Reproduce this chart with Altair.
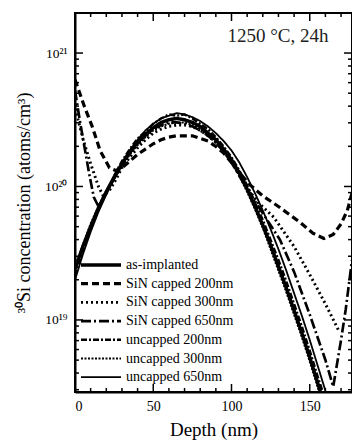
import altair as alt
import pandas as pd

# ---------------- data ----------------
series_names = ["as-implanted", "SiN capped 200nm", "SiN capped 300nm",
                "SiN capped 650nm", "uncapped 200nm", "uncapped 300nm",
                "uncapped 650nm"]

# common depth grid (nm) for the as-implanted and uncapped profiles
depth_std = [0, 5, 10, 15, 20, 25, 30, 35, 40, 45, 50, 55, 60, 65, 70, 75, 80,
             85, 90, 95, 100, 105, 110, 115, 120, 125, 130, 135, 140, 145, 150,
             155, 160]
# log10 of concentration (atoms/cm^3)
as_implanted_log = [19.38, 19.55, 19.70, 19.84, 19.96, 20.07, 20.17, 20.26, 20.33,
                    20.39, 20.44, 20.48, 20.50, 20.51, 20.50, 20.48, 20.45, 20.40,
                    20.35, 20.28, 20.20, 20.10, 19.98, 19.85, 19.71, 19.56, 19.40,
                    19.24, 19.07, 18.90, 18.72, 18.53, 18.34]
uncapped200_log = [19.33, 19.52, 19.68, 19.83, 19.95, 20.08, 20.19, 20.28, 20.36,
                   20.41, 20.47, 20.51, 20.54, 20.53, 20.54, 20.51, 20.47, 20.43,
                   20.37, 20.30, 20.22, 20.12, 20.01, 19.88, 19.75, 19.60, 19.45,
                   19.29, 19.12, 18.95, 18.77, 18.58, 18.40]
uncapped300_log = [19.40, 19.56, 19.72, 19.85, 19.97, 20.06, 20.15, 20.24, 20.31,
                   20.37, 20.42, 20.45, 20.47, 20.48, 20.48, 20.46, 20.43, 20.39,
                   20.33, 20.26, 20.18, 20.08, 19.96, 19.83, 19.69, 19.53, 19.37,
                   19.21, 19.04, 18.87, 18.69, 18.50, 18.31]
uncapped650_log = [19.30, 19.49, 19.66, 19.81, 19.94, 20.06, 20.17, 20.27, 20.35,
                   20.42, 20.47, 20.51, 20.53, 20.55, 20.54, 20.52, 20.49, 20.45,
                   20.40, 20.34, 20.27, 20.18, 20.07, 19.95, 19.82, 19.68, 19.53,
                   19.37, 19.20, 19.03, 18.85, 18.66, 18.47]

sin200_depth = [0, 3, 6, 11, 16, 22, 26, 30, 35, 40, 45, 50, 55, 60, 65, 70, 75,
                80, 85, 90, 95, 100, 106, 112, 120, 130, 144, 152, 159, 165, 170,
                174, 177]
sin200_log = [20.80, 20.70, 20.60, 20.45, 20.27, 20.14, 20.12, 20.14, 20.19, 20.24,
              20.28, 20.32, 20.35, 20.37, 20.38, 20.38, 20.38, 20.36, 20.34, 20.30,
              20.25, 20.18, 20.09, 20.01, 19.93, 19.85, 19.73, 19.65, 19.61, 19.64,
              19.72, 19.82, 19.95]

sin300_depth = [0, 2, 5, 10, 15, 18, 22, 26, 30, 35, 40, 45, 50, 55, 60, 65, 70,
                75, 80, 85, 90, 95, 100, 105, 110, 117, 127, 140, 150, 160, 168.5]
sin300_log = [20.62, 20.50, 20.36, 20.17, 20.00, 19.93, 19.97, 20.05, 20.14, 20.22,
              20.29, 20.35, 20.40, 20.43, 20.45, 20.46, 20.46, 20.45, 20.42, 20.38,
              20.33, 20.27, 20.20, 20.10, 19.99, 19.88, 19.77, 19.55, 19.34, 19.12,
              18.92]

sin650_depth = [0, 3, 6, 9, 12, 15, 20, 25, 30, 35, 40, 45, 50, 55, 60, 65, 70,
                75, 80, 85, 90, 95, 100, 110, 120, 131, 140, 150, 160, 165, 170,
                173, 177]
sin650_log = [20.72, 20.50, 20.30, 20.10, 19.92, 19.85, 19.95, 20.06, 20.16, 20.25,
              20.32, 20.38, 20.43, 20.46, 20.48, 20.48, 20.47, 20.45, 20.42, 20.38,
              20.33, 20.26, 20.18, 19.98, 19.80, 19.60, 19.36, 19.04, 18.70, 18.50,
              18.85, 19.08, 19.45]

x_major = [0, 50, 100, 150]
x_minor = [10, 20, 30, 40, 60, 70, 80, 90, 110, 120, 130, 140, 160, 170]
y_major = [1e19, 1e20, 1e21]
y_minor = [3e18, 4e18, 5e18, 6e18, 7e18, 8e18, 9e18,
           2e19, 3e19, 4e19, 5e19, 6e19, 7e19, 8e19, 9e19,
           2e20, 3e20, 4e20, 5e20, 6e20, 7e20, 8e20, 9e20]

annotation = "1250 °C, 24h"
x_title = "Depth (nm)"
y_title = "³⁰Si concentration (atoms/cm³)"

# ---------------- assemble table ----------------
rows = []
def add(name, depths, logs):
    for i, (d, v) in enumerate(zip(depths, logs)):
        rows.append({"series": name, "depth": d, "conc": 10 ** v, "order": i})

add("as-implanted", depth_std, as_implanted_log)
add("SiN capped 200nm", sin200_depth, sin200_log)
add("SiN capped 300nm", sin300_depth, sin300_log)
add("SiN capped 650nm", sin650_depth, sin650_log)
add("uncapped 200nm", depth_std, uncapped200_log)
add("uncapped 300nm", depth_std, uncapped300_log)
add("uncapped 650nm", depth_std, uncapped650_log)
df = pd.DataFrame(rows)
note_df = pd.DataFrame({"label": [annotation]})
xmaj_df = pd.DataFrame({"depth": x_major})
xmin_df = pd.DataFrame({"depth": x_minor})
ymaj_df = pd.DataFrame({"conc": y_major})
ymin_df = pd.DataFrame({"conc": y_minor})

FONT = "Liberation Serif"
W, H = 277, 379
XDOM = [0, 177]
YDOM = [10 ** 18.46, 10 ** 21.30]
xscale = alt.Scale(domain=XDOM, nice=False, zero=False)
yscale = alt.Scale(type="log", domain=YDOM, nice=False)

x_axis = alt.Axis(values=x_major, ticks=False, grid=False,
                  labelFont=FONT, labelFontSize=14, labelPadding=7,
                  labelColor="black", domainColor="black", domainWidth=2,
                  title=x_title, titleFont=FONT, titleFontSize=19,
                  titleFontWeight="normal", titleColor="black", titlePadding=7)
y_axis = alt.Axis(values=y_major, ticks=False, grid=False,
                  labelExpr="datum.value > 5e20 ? '10²¹' : datum.value > 5e19 ? '10²⁰' : '10¹⁹'",
                  labelFont=FONT, labelFontSize=13.5, labelPadding=8,
                  labelColor="black", domainColor="black", domainWidth=2,
                  title=y_title, titleFont=FONT, titleFontSize=18,
                  titleFontWeight="normal", titleColor="black", titlePadding=11)

X_ENC = alt.X("depth:Q", scale=xscale, axis=x_axis)
Y_ENC = alt.Y("conc:Q", scale=yscale, axis=y_axis)

dash_scale = alt.Scale(domain=series_names,
                       range=[[1, 0], [7, 4], [2, 3], [10, 3, 2, 3], [6, 2, 2, 2],
                              [2, 1.5], [1, 0]])
width_scale = alt.Scale(domain=series_names,
                        range=[3.5, 1.8, 1.8, 1.6, 1.6, 3.0, 1.6])

lines = alt.Chart(df).mark_line(clip=True, color="black").encode(
    x=X_ENC,
    y=Y_ENC,
    strokeDash=alt.StrokeDash("series:N", scale=dash_scale, legend=None),
    strokeWidth=alt.StrokeWidth("series:N", scale=width_scale, legend=None),
    detail="series:N",
    order="order:Q",
)

# inward tick marks on all four sides, placed through the shared scales
def xticks(data, length):
    bottom = alt.Chart(data).mark_rule(color="black", strokeWidth=1.5).encode(
        x=X_ENC, y=alt.value(H - length), y2=alt.value(H))
    top = alt.Chart(data).mark_rule(color="black", strokeWidth=1.5).encode(
        x=X_ENC, y=alt.value(0), y2=alt.value(length))
    return [bottom, top]

def yticks(data, length):
    left = alt.Chart(data).mark_rule(color="black", strokeWidth=1.5).encode(
        y=Y_ENC, x=alt.value(0), x2=alt.value(length))
    right = alt.Chart(data).mark_rule(color="black", strokeWidth=1.5).encode(
        y=Y_ENC, x=alt.value(W - length), x2=alt.value(W))
    return [left, right]

tick_layers = (xticks(xmaj_df, 8) + xticks(xmin_df, 4)
               + yticks(ymaj_df, 8) + yticks(ymin_df, 4))

# hand-built legend (one row per series)
legend_layers = []
LEG_TOP, LEG_STEP = 252, 18.7
for i, name in enumerate(series_names):
    one = pd.DataFrame({"series": [name]})
    yy = LEG_TOP + i * LEG_STEP
    legend_layers.append(alt.Chart(one).mark_rule(color="black").encode(
        x=alt.value(6), x2=alt.value(46), y=alt.value(yy),
        strokeDash=alt.StrokeDash("series:N", scale=dash_scale, legend=None),
        strokeWidth=alt.StrokeWidth("series:N", scale=width_scale, legend=None),
    ))
    legend_layers.append(alt.Chart(one).mark_text(
        align="left", baseline="middle", font=FONT, fontSize=14, color="black"
    ).encode(x=alt.value(51), y=alt.value(yy), text="series:N"))

note = alt.Chart(note_df).mark_text(
    align="center", baseline="middle", font=FONT, fontSize=19, color="#222"
).encode(x=alt.value(203), y=alt.value(23), text="label:N")

chart = alt.layer(lines, *tick_layers, *legend_layers, note).properties(
    width=W, height=H,
    padding={"left": 75, "top": 13, "right": 0, "bottom": 55},
    autosize=alt.AutoSizeParams(type="none"),
).configure(background="white").configure_view(stroke="black", strokeWidth=2)

chart.save("out.html", embed_options={"renderer": "svg", "actions": False})
